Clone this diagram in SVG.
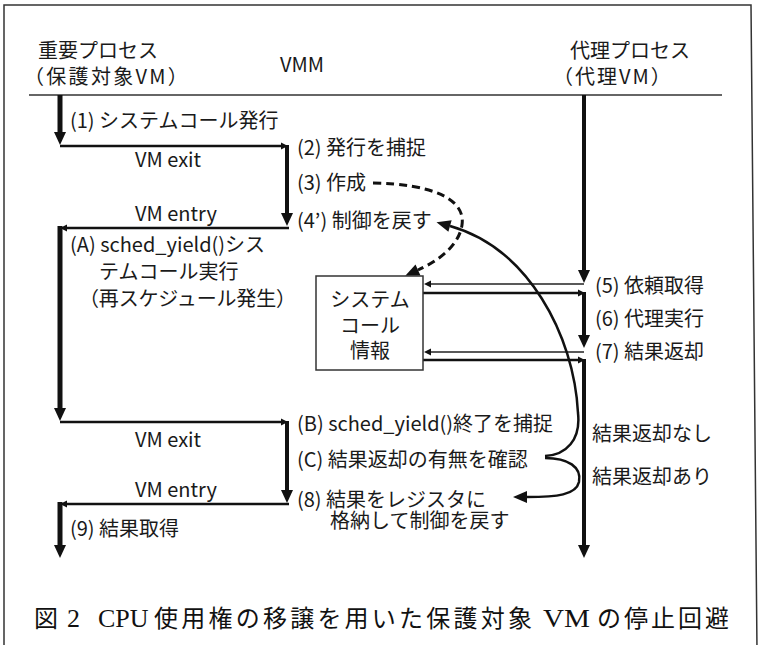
<svg xmlns="http://www.w3.org/2000/svg" width="759" height="645" viewBox="0 0 759 645">
<style>
text{font-family:"Noto Sans CJK JP","Noto Sans",sans-serif;font-size:20px;fill:#1a1a1a}
.cap{font-family:"Liberation Serif","Noto Sans CJK JP",serif;font-size:24px;fill:#111}
.cl{font-family:"Liberation Serif",serif;font-size:26px}
.frame{fill:none;stroke:#333;stroke-width:1.5}
.thick{fill:none;stroke:#111;stroke-width:5}
.med{fill:none;stroke:#111;stroke-width:4}
.h{fill:none;stroke:#111;stroke-width:2.5}
.thin{fill:none;stroke:#222;stroke-width:1.5}
.curve{fill:none;stroke:#111;stroke-width:2.5}
.dash{fill:none;stroke:#111;stroke-width:3;stroke-dasharray:8 5}
</style>
<defs>
<marker id="big" markerUnits="userSpaceOnUse" markerWidth="14" markerHeight="12" refX="0" refY="6" orient="auto" overflow="visible"><path d="M0,0 L13,6 L0,12 z" fill="#111"/></marker>
<marker id="sm" markerUnits="userSpaceOnUse" markerWidth="8" markerHeight="8" refX="0" refY="3.5" orient="auto" overflow="visible"><path d="M0,0 L7,3.5 L0,7 z" fill="#111"/></marker>
<marker id="cv" markerUnits="userSpaceOnUse" markerWidth="15" markerHeight="12" refX="0" refY="6" orient="auto" overflow="visible"><path d="M0,0 L14,6 L0,12 z" fill="#111"/></marker>
</defs>
<rect width="759" height="645" fill="#fff"/>
<path class="frame" d="M4,650 V5 H751 L757,650"/>
<line x1="29" y1="95" x2="722" y2="95" stroke="#333" stroke-width="1.5"/>

<g id="connectors">
<path class="thick" d="M60,95 V132" marker-end="url(#big)"/>
<path class="h" d="M60,146 H281" marker-end="url(#sm)"/>
<path class="med" d="M287,145 V213" marker-end="url(#big)"/>
<path class="h" d="M289,228 H67" marker-end="url(#sm)"/>
<path class="thick" d="M60,226 V408" marker-end="url(#big)"/>
<path class="h" d="M60,422 H281" marker-end="url(#sm)"/>
<path class="med" d="M287,421 V490" marker-end="url(#big)"/>
<path class="h" d="M289,504 H67" marker-end="url(#sm)"/>
<path class="thick" d="M60,502 V545" marker-end="url(#big)"/>

<path class="med" d="M584,95 V270" marker-end="url(#big)"/>
<path class="thin" d="M584,284 H431" marker-end="url(#sm)"/>
<path class="h" d="M423,293 H578" marker-end="url(#sm)"/>
<path class="med" d="M584,292 V335" marker-end="url(#big)"/>
<path class="thin" d="M584,352 H431" marker-end="url(#sm)"/>
<path class="h" d="M423,360 H578" marker-end="url(#sm)"/>
<path class="med" d="M584,359 V545" marker-end="url(#big)"/>

<path class="dash" d="M373,183 C430,184 466,198 462,225 C459,245 440,260 418,270" marker-end="url(#cv)"/>
<path class="curve" d="M545,456 C566,455 581,440 578,413 C574,335 528,248 450,226" marker-end="url(#cv)"/>
<path class="curve" d="M545,458 C568,458 582,467 579,482 C576,495 557,497 527,497" marker-end="url(#cv)"/>
</g>

<g id="hdr-important"><text x="38" y="58">重要プロセス</text><text x="24" y="84" letter-spacing="2.3">（保護対象VM）</text></g>
<g id="hdr-vmm"><text x="280" y="72">VMM</text></g>
<g id="hdr-proxy"><text x="570" y="58">代理プロセス</text><text x="553" y="84" letter-spacing="2">（代理VM）</text></g>

<g id="step1"><text x="70" y="128">(1) システムコール発行</text></g>
<g id="vmexit1"><text x="135" y="167">VM exit</text></g>
<g id="vmentry1"><text x="135" y="221">VM entry</text></g>
<g id="step2"><text x="297" y="155">(2) 発行を捕捉</text></g>
<g id="step3"><text x="297" y="190">(3) 作成</text></g>
<g id="step4"><text x="297" y="228">(4’) 制御を戻す</text></g>
<g id="stepA"><text x="70" y="252">(A) sched_yield()シス</text><text x="99" y="279">テムコール実行</text><text x="79" y="306" textLength="217" lengthAdjust="spacing">（再スケジュール発生）</text></g>

<g id="syscall-info"><rect x="316" y="276" width="107" height="94" fill="#fff" stroke="#333" stroke-width="1.5"/>
<text x="370" y="307" text-anchor="middle">システム</text><text x="370" y="333" text-anchor="middle">コール</text><text x="370" y="358" text-anchor="middle">情報</text></g>

<g id="step5"><text x="595" y="293">(5) 依頼取得</text></g>
<g id="step6"><text x="595" y="326">(6) 代理実行</text></g>
<g id="step7"><text x="595" y="359">(7) 結果返却</text></g>

<g id="stepB"><text x="297" y="431">(B) sched_yield()終了を捕捉</text></g>
<g id="stepC"><text x="297" y="467">(C) 結果返却の有無を確認</text></g>
<g id="step8"><text x="297" y="507">(8) 結果をレジスタに</text><text x="330" y="528">格納して制御を戻す</text></g>
<g id="no-result"><text x="592" y="441">結果返却なし</text></g>
<g id="with-result"><text x="592" y="484">結果返却あり</text></g>
<g id="vmexit2"><text x="135" y="447">VM exit</text></g>
<g id="vmentry2"><text x="135" y="497">VM entry</text></g>
<g id="step9"><text x="70" y="536">(9) 結果取得</text></g>

<g id="caption"><text class="cap" y="627"><tspan x="34">図</tspan><tspan class="cl" x="67">2</tspan><tspan class="cl" x="98">CPU</tspan><tspan x="154" textLength="378" lengthAdjust="spacing">使用権の移譲を用いた保護対象</tspan><tspan class="cl" x="543" textLength="47" lengthAdjust="spacingAndGlyphs">VM</tspan><tspan x="597" textLength="132" lengthAdjust="spacing">の停止回避</tspan></text></g>
</svg>
